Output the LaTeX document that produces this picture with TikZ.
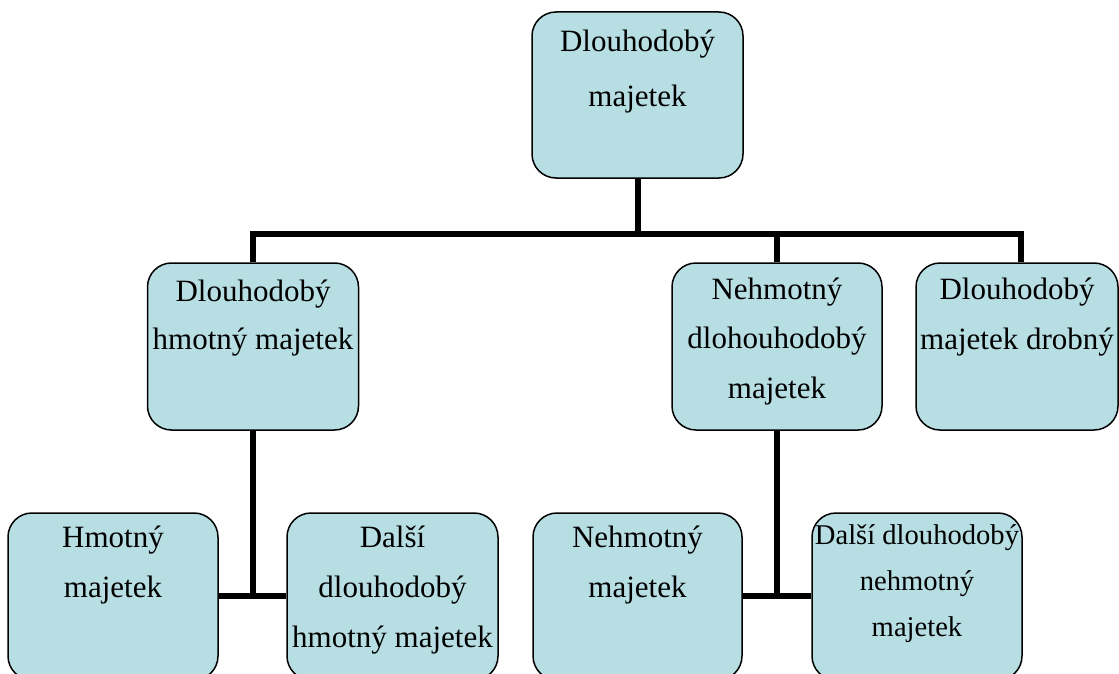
\documentclass[tikz,border=0pt]{standalone}
\usepackage{fontspec}
\setmainfont{Liberation Serif}
\usetikzlibrary{calc}
\definecolor{boxfill}{HTML}{B7DEE3}
\tikzset{
  box/.style={draw=black, line width=1.5pt, fill=boxfill, rounded corners=24pt, inner sep=0pt},
  lbl/.style={anchor=base, inner sep=0pt},
  conn/.style={line width=6pt, draw=black},
}
\newcommand{\boxtext}[3]{\parbox[t]{#1pt}{\centering\fontsize{31}{#2}\selectfont #3}}
\newcommand{\boxtextsmall}[3]{\parbox[t]{#1pt}{\centering\fontsize{28.6}{#2}\selectfont #3}}
\begin{document}
\begin{tikzpicture}[x=1pt,y=-1pt]
\useasboundingbox (0,0) rectangle (1119,674);
\clip (0,0) rectangle (1119,674);
\fill[white] (0,0) rectangle (1119,674);

% connector coordinates
\coordinate (bar) at (637.5,234);
\coordinate (barL) at (253,234);
\coordinate (barR) at (1021.3,234);
\coordinate (jL) at (253,596);
\coordinate (jR) at (777,596);

% boxes
\node[box, minimum width=211pt, minimum height=166pt] (top) at (637.5,95) {};
\node[box, minimum width=211pt, minimum height=167pt] (dhm) at (253,346.5) {};
\node[box, minimum width=210pt, minimum height=167pt] (ndm) at (777,346.5) {};
\node[box, minimum width=202pt, minimum height=167pt] (dmd) at (1017,346.5) {};
\node[box, minimum width=210pt, minimum height=167pt] (hm) at (113,596.5) {};
\node[box, minimum width=211pt, minimum height=167pt] (ddhm) at (392.5,596.5) {};
\node[box, minimum width=209pt, minimum height=167pt] (nm) at (637.5,596.5) {};
\node[box, minimum width=210pt, minimum height=167pt] (ddnm) at (917,596.5) {};

% connectors
\draw[conn] (top.south) -- (top.south |- bar);
\draw[conn, line cap=rect] (barL) -- (barR);
\draw[conn] (barL) -- (dhm.north -| barL);
\draw[conn] (ndm.north |- bar) -- (ndm.north);
\draw[conn] (barR) -- (dmd.north -| barR);
\draw[conn] (dhm.south) -- (dhm.south |- jL);
\draw[conn] (hm.east |- jL) -- (ddhm.west |- jL);
\draw[conn] (ndm.south) -- (ndm.south |- jR);
\draw[conn] (nm.east |- jR) -- (ddnm.west |- jR);

% texts
\node[lbl] (toptext) at ($(top.north)+(0,40)$) {\boxtext{205}{55}{Dlouhodobý\\majetek}};
\node[lbl] (dhmtext) at ($(dhm.north)+(0,39)$) {\boxtext{208}{48}{Dlouhodobý\\hmotný majetek}};
\node[lbl] (ndmtext) at ($(ndm.north)+(0,37)$) {\boxtext{205}{49.5}{Nehmotný\\dlohouhodobý\\majetek}};
\node[lbl] (dmdtext) at ($(dmd.north)+(0,37)$) {\boxtext{200}{50}{Dlouhodobý\\majetek drobný}};
\node[lbl] (hmtext) at ($(hm.north)+(0,35)$) {\boxtext{205}{50}{Hmotný\\majetek}};
\node[lbl] (ddhmtext) at ($(ddhm.north)+(0,35)$) {\boxtext{208}{50}{Další\\dlouhodobý\\hmotný majetek}};
\node[lbl] (nmtext) at ($(nm.north)+(0,35)$) {\boxtext{205}{50}{Nehmotný\\majetek}};
\node[lbl] (ddnmtext) at ($(ddnm.north)+(0,32)$) {\boxtextsmall{208}{46}{Další dlouhodobý\\nehmotný\\majetek}};
\end{tikzpicture}
\end{document}
